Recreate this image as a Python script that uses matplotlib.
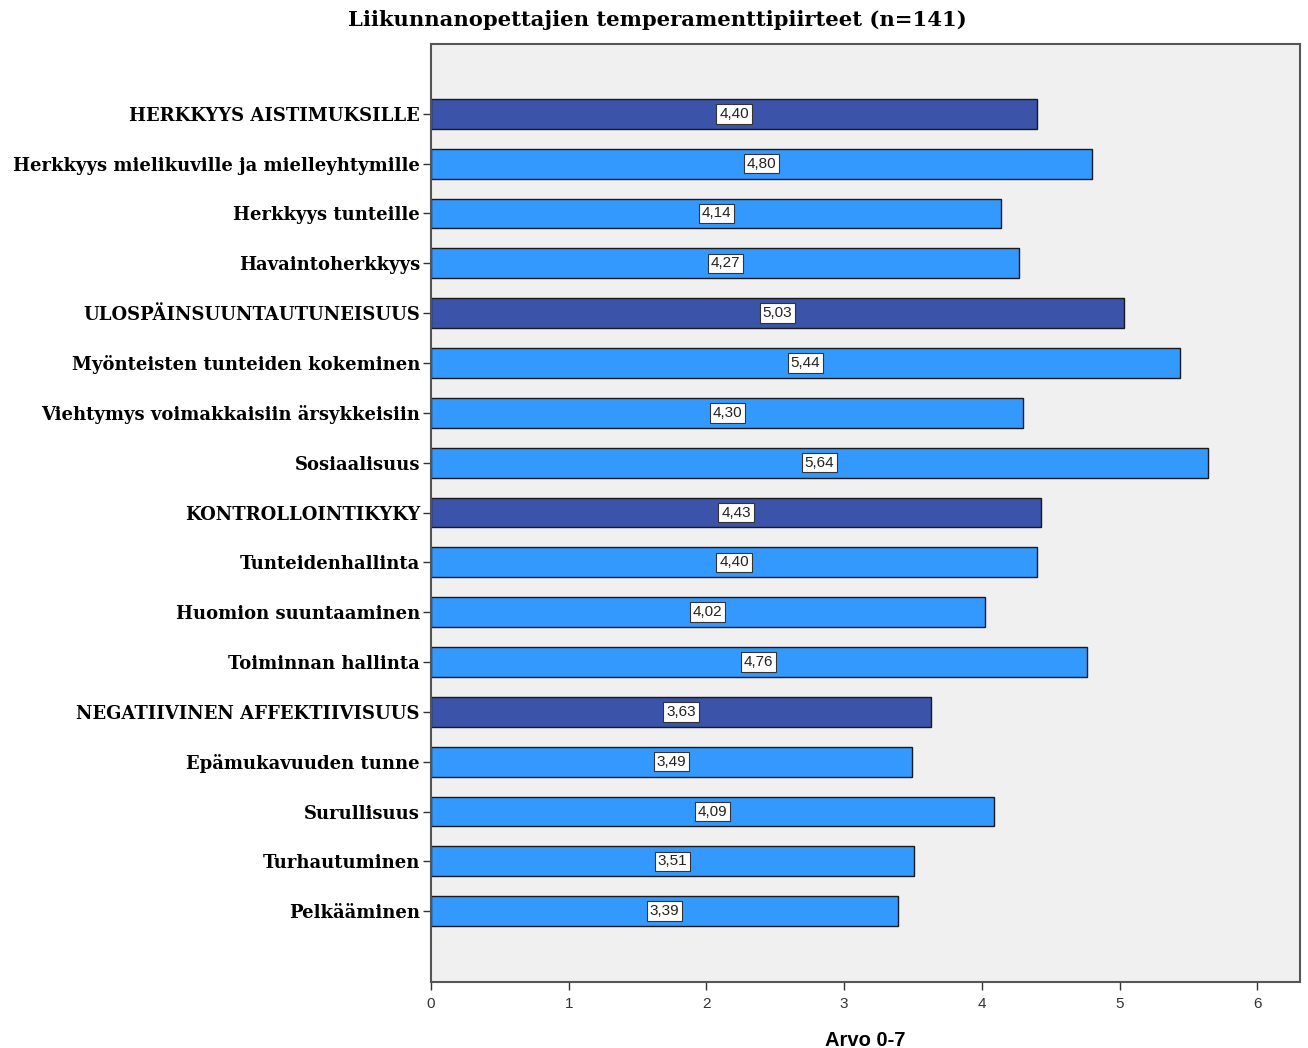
import matplotlib
matplotlib.use("Agg")
import matplotlib.pyplot as plt

categories = [
    "HERKKYYS AISTIMUKSILLE",
    "Herkkyys mielikuville ja mielleyhtymille",
    "Herkkyys tunteille",
    "Havaintoherkkyys",
    "ULOSPÄINSUUNTAUTUNEISUUS",
    "Myönteisten tunteiden kokeminen",
    "Viehtymys voimakkaisiin ärsykkeisiin",
    "Sosiaalisuus",
    "KONTROLLOINTIKYKY",
    "Tunteidenhallinta",
    "Huomion suuntaaminen",
    "Toiminnan hallinta",
    "NEGATIIVINEN AFFEKTIIVISUUS",
    "Epämukavuuden tunne",
    "Surullisuus",
    "Turhautuminen",
    "Pelkääminen",
]
values = [4.40, 4.80, 4.14, 4.27, 5.03, 5.44, 4.30, 5.64, 4.43,
          4.40, 4.02, 4.76, 3.63, 3.49, 4.09, 3.51, 3.39]
is_main = [1, 0, 0, 0, 1, 0, 0, 0, 1, 0, 0, 0, 1, 0, 0, 0, 0]
x_ticks = [0, 1, 2, 3, 4, 5, 6]

dark = "#3B53A9"
light = "#3399FF"

fig = plt.figure(figsize=(13.08, 10.48), dpi=100)
ax = fig.add_axes([431 / 1308, 1 - 982 / 1048, (1300 - 431) / 1308, (982 - 44) / 1048])
ax.set_facecolor("#F0F0F0")

ypos = list(range(len(categories)))
colors = [dark if m else light for m in is_main]
ax.barh(ypos, values, height=0.6, color=colors, edgecolor="#1a1a1a", linewidth=1.0, zorder=2)

for y, v in zip(ypos, values):
    ax.text(v / 2, y, f"{v:.2f}".replace(".", ","), ha="center", va="center",
            fontsize=11, family="Liberation Sans", color="#222222", zorder=3,
            bbox=dict(boxstyle="square,pad=0.18", facecolor="white", edgecolor="#333333", linewidth=0.8))

ax.set_ylim(len(categories) - 1 + 1.42, -1.4)
ax.set_xlim(0, 6.31)
ax.set_yticks(ypos)
ax.set_yticklabels(categories, family="DejaVu Serif", fontweight="bold", fontsize=13)
ax.set_xticks(x_ticks)
ax.set_xticklabels([str(t) for t in x_ticks], family="Liberation Sans", fontsize=11, color="#333333")
ax.tick_params(axis="y", length=6, width=1, color="#333333", pad=2)
ax.tick_params(axis="x", length=6, width=1, color="#333333", pad=5)

for s in ax.spines.values():
    s.set_color("#555555")
    s.set_linewidth(1.5)

ax.set_xlabel("Arvo 0-7", family="Liberation Sans", fontweight="bold", fontsize=14.5, labelpad=14)
fig.text(657 / 1308, 1 - 20 / 1048, "Liikunnanopettajien temperamenttipiirteet (n=141)",
         ha="center", va="center", family="DejaVu Serif", fontweight="bold", fontsize=15.2)

fig.savefig("out.png", dpi=100)
